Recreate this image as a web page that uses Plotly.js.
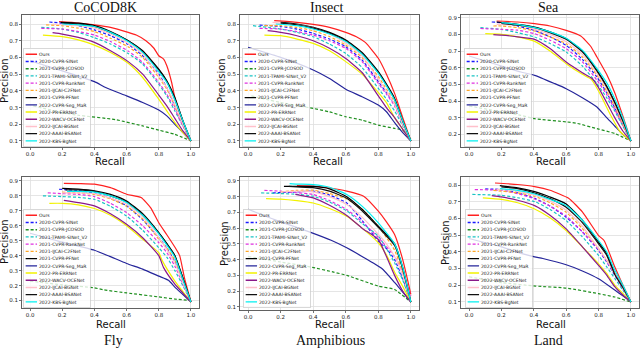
<!DOCTYPE html>
<html>
<head>
<meta charset="utf-8">
<script src="https://cdn.plot.ly/plotly-3.0.1.min.js"></script>
<style>
  html, body { margin: 0; padding: 0; background: #fff; }
  #chart { width: 640px; height: 348px; }
</style>
</head>
<body>
<div id="chart"></div>
<script>
// method names, in legend order
const methods = [
    'Ours', '2020-CVPR-SINet', '2021-CVPR-JCOSOD', '2021-TPAMI-SINet_V2',
    '2021-CVPR-RankNet', '2021-IJCAI-C2FNet', '2021-CVPR-PFNet', '2022-CVPR-Seg_MaR',
    '2022-PR-ERRNet', '2022-WACV-OCENet', '2022-IJCAI-BGNet', '2022-AAAI-BSANet', '2022-KBS-BgNet'
];
const datasetNames = ['CoCOD8K', 'Insect', 'Sea', 'Fly', 'Amphibious', 'Land'];

// PR curves, one list of [recall, precision] per method (same order as methods)
const cocod8k = [
    [[0.18,0.814],[0.3,0.806],[0.4,0.795],[0.5,0.78],[0.61,0.75],[0.66,0.734],[0.72,0.70],[0.77,0.655],[0.80,0.61],[0.83,0.59],[0.85,0.55],[0.88,0.45],[0.90,0.36],[0.95,0.21],[1.0,0.1]],
    [[0.12,0.812],[0.2,0.805],[0.3,0.79],[0.4,0.765],[0.5,0.73],[0.61,0.678],[0.7,0.61],[0.8,0.5],[0.85,0.42],[0.9,0.31],[0.95,0.2],[1.0,0.1]],
    [[0.02,0.31],[0.2,0.27],[0.3,0.254],[0.53,0.228],[0.7,0.19],[0.8,0.165],[0.9,0.14],[1.0,0.1]],
    [[0.07,0.78],[0.2,0.77],[0.3,0.75],[0.4,0.718],[0.5,0.68],[0.61,0.624],[0.7,0.56],[0.8,0.44],[0.85,0.37],[0.9,0.28],[0.95,0.19],[1.0,0.1]],
    [[0.07,0.774],[0.2,0.77],[0.3,0.755],[0.4,0.734],[0.5,0.695],[0.61,0.638],[0.7,0.57],[0.8,0.45],[0.85,0.38],[0.9,0.29],[0.95,0.19],[1.0,0.1]],
    [[0.10,0.795],[0.2,0.79],[0.3,0.775],[0.4,0.755],[0.5,0.715],[0.61,0.664],[0.7,0.6],[0.8,0.48],[0.85,0.41],[0.9,0.31],[0.95,0.2],[1.0,0.1]],
    [[0.19,0.81],[0.3,0.805],[0.4,0.79],[0.5,0.755],[0.61,0.70],[0.7,0.64],[0.8,0.53],[0.85,0.46],[0.9,0.36],[0.95,0.22],[1.0,0.1]],
    [[0.0,0.58],[0.2,0.52],[0.4,0.455],[0.47,0.42],[0.6,0.37],[0.7,0.33],[0.8,0.285],[0.85,0.25],[0.9,0.2],[0.95,0.15],[1.0,0.1]],
    [[0.08,0.734],[0.2,0.725],[0.3,0.705],[0.4,0.674],[0.5,0.63],[0.61,0.565],[0.7,0.48],[0.8,0.35],[0.85,0.28],[0.9,0.21],[0.95,0.15],[1.0,0.1]],
    [[0.14,0.748],[0.2,0.74],[0.3,0.72],[0.4,0.69],[0.5,0.64],[0.61,0.575],[0.7,0.5],[0.8,0.375],[0.85,0.31],[0.9,0.235],[0.95,0.16],[1.0,0.1]],
    [[0.14,0.80],[0.2,0.795],[0.3,0.79],[0.4,0.775],[0.5,0.74],[0.61,0.684],[0.7,0.62],[0.8,0.49],[0.85,0.42],[0.9,0.32],[0.95,0.2],[1.0,0.1]],
    [[0.2,0.805],[0.3,0.80],[0.4,0.785],[0.5,0.75],[0.61,0.70],[0.7,0.635],[0.8,0.525],[0.85,0.455],[0.9,0.35],[0.95,0.22],[1.0,0.1]],
    [[0.2,0.80],[0.3,0.795],[0.4,0.785],[0.5,0.75],[0.61,0.695],[0.7,0.63],[0.8,0.515],[0.85,0.45],[0.9,0.345],[0.95,0.22],[1.0,0.1]],
];

const insect = [
    [[0.16,0.82],[0.3,0.81],[0.4,0.798],[0.5,0.78],[0.6,0.75],[0.665,0.724],[0.72,0.69],[0.8,0.595],[0.85,0.50],[0.9,0.385],[0.95,0.24],[1.0,0.1]],
    [[0.07,0.794],[0.2,0.785],[0.3,0.77],[0.4,0.744],[0.5,0.71],[0.6,0.664],[0.7,0.585],[0.8,0.455],[0.85,0.39],[0.9,0.32],[0.95,0.2],[1.0,0.1]],
    [[0.02,0.37],[0.2,0.33],[0.4,0.295],[0.5,0.274],[0.6,0.245],[0.7,0.225],[0.8,0.195],[0.9,0.175],[0.95,0.165],[1.0,0.11]],
    [[0.03,0.79],[0.2,0.77],[0.3,0.75],[0.4,0.724],[0.5,0.68],[0.6,0.624],[0.7,0.54],[0.8,0.415],[0.85,0.35],[0.9,0.28],[0.95,0.19],[1.0,0.1]],
    [[0.07,0.774],[0.2,0.77],[0.3,0.755],[0.4,0.734],[0.5,0.70],[0.6,0.654],[0.7,0.575],[0.8,0.445],[0.85,0.38],[0.9,0.31],[0.95,0.2],[1.0,0.1]],
    [[0.1,0.79],[0.2,0.79],[0.3,0.78],[0.4,0.76],[0.5,0.725],[0.6,0.674],[0.7,0.6],[0.8,0.485],[0.85,0.41],[0.9,0.33],[0.95,0.21],[1.0,0.1]],
    [[0.2,0.81],[0.3,0.80],[0.4,0.78],[0.5,0.75],[0.6,0.704],[0.7,0.63],[0.8,0.515],[0.85,0.44],[0.9,0.355],[0.95,0.22],[1.0,0.1]],
    [[0.0,0.66],[0.2,0.6],[0.4,0.525],[0.5,0.474],[0.6,0.41],[0.7,0.365],[0.8,0.315],[0.85,0.275],[0.9,0.21],[0.95,0.15],[1.0,0.1]],
    [[0.10,0.734],[0.2,0.73],[0.3,0.71],[0.4,0.684],[0.5,0.64],[0.6,0.575],[0.7,0.50],[0.8,0.39],[0.85,0.33],[0.9,0.24],[0.95,0.17],[1.0,0.1]],
    [[0.12,0.76],[0.2,0.75],[0.3,0.73],[0.4,0.70],[0.5,0.655],[0.6,0.594],[0.7,0.51],[0.8,0.37],[0.85,0.30],[0.9,0.24],[0.95,0.17],[1.0,0.1]],
    [[0.15,0.81],[0.3,0.795],[0.4,0.775],[0.5,0.74],[0.6,0.685],[0.7,0.61],[0.8,0.47],[0.85,0.40],[0.9,0.32],[0.95,0.2],[1.0,0.1]],
    [[0.2,0.805],[0.3,0.795],[0.4,0.775],[0.5,0.745],[0.6,0.70],[0.7,0.625],[0.8,0.51],[0.85,0.435],[0.9,0.35],[0.95,0.22],[1.0,0.1]],
    [[0.17,0.80],[0.3,0.79],[0.4,0.77],[0.5,0.74],[0.6,0.695],[0.7,0.62],[0.8,0.505],[0.85,0.43],[0.9,0.345],[0.95,0.22],[1.0,0.1]],
];

const sea = [
    [[0.17,0.88],[0.3,0.874],[0.405,0.864],[0.5,0.85],[0.6,0.824],[0.69,0.79],[0.75,0.73],[0.79,0.664],[0.85,0.56],[0.9,0.45],[0.95,0.31],[1.0,0.16]],
    [[0.14,0.874],[0.2,0.87],[0.3,0.85],[0.405,0.824],[0.5,0.785],[0.6,0.734],[0.7,0.65],[0.79,0.544],[0.85,0.45],[0.9,0.36],[0.95,0.26],[1.0,0.16]],
    [[0.0,0.37],[0.2,0.335],[0.32,0.314],[0.405,0.294],[0.6,0.275],[0.67,0.265],[0.79,0.234],[0.9,0.205],[1.0,0.16]],
    [[0.07,0.84],[0.2,0.83],[0.3,0.81],[0.405,0.784],[0.5,0.745],[0.6,0.694],[0.7,0.61],[0.79,0.504],[0.85,0.42],[0.9,0.34],[0.95,0.25],[1.0,0.16]],
    [[0.07,0.835],[0.2,0.83],[0.3,0.825],[0.405,0.804],[0.5,0.765],[0.6,0.714],[0.7,0.635],[0.79,0.525],[0.85,0.44],[0.9,0.35],[0.95,0.255],[1.0,0.16]],
    [[0.15,0.85],[0.2,0.85],[0.3,0.84],[0.405,0.82],[0.5,0.785],[0.6,0.744],[0.7,0.665],[0.79,0.555],[0.85,0.46],[0.9,0.37],[0.95,0.26],[1.0,0.16]],
    [[0.17,0.874],[0.3,0.86],[0.405,0.844],[0.5,0.815],[0.6,0.774],[0.7,0.70],[0.79,0.584],[0.85,0.49],[0.9,0.394],[0.95,0.28],[1.0,0.16]],
    [[0.0,0.67],[0.2,0.61],[0.32,0.574],[0.405,0.554],[0.53,0.504],[0.6,0.474],[0.7,0.42],[0.79,0.364],[0.85,0.30],[0.9,0.25],[0.95,0.2],[1.0,0.16]],
    [[0.1,0.804],[0.2,0.80],[0.3,0.785],[0.405,0.758],[0.5,0.70],[0.6,0.624],[0.7,0.56],[0.755,0.53],[0.8,0.46],[0.875,0.314],[0.93,0.22],[1.0,0.16]],
    [[0.15,0.798],[0.2,0.795],[0.3,0.785],[0.405,0.77],[0.5,0.715],[0.6,0.634],[0.7,0.57],[0.76,0.535],[0.8,0.48],[0.9,0.3],[0.95,0.22],[1.0,0.16]],
    [[0.17,0.86],[0.3,0.855],[0.405,0.83],[0.5,0.8],[0.6,0.755],[0.7,0.68],[0.79,0.565],[0.85,0.475],[0.9,0.38],[0.95,0.27],[1.0,0.16]],
    [[0.2,0.865],[0.3,0.855],[0.405,0.84],[0.5,0.81],[0.6,0.77],[0.7,0.695],[0.79,0.58],[0.85,0.485],[0.9,0.39],[0.95,0.28],[1.0,0.16]],
    [[0.2,0.87],[0.3,0.86],[0.405,0.84],[0.5,0.815],[0.6,0.776],[0.7,0.705],[0.79,0.594],[0.85,0.51],[0.9,0.414],[0.95,0.3],[1.0,0.16]],
];

const fly = [
    [[0.21,0.884],[0.3,0.882],[0.4,0.878],[0.5,0.855],[0.6,0.811],[0.69,0.789],[0.75,0.72],[0.8,0.62],[0.85,0.54],[0.91,0.44],[0.93,0.40],[0.96,0.25],[1.0,0.09]],
    [[0.18,0.844],[0.3,0.835],[0.4,0.818],[0.5,0.785],[0.6,0.733],[0.7,0.64],[0.8,0.52],[0.85,0.45],[0.9,0.36],[0.95,0.23],[1.0,0.09]],
    [[0.0,0.23],[0.2,0.205],[0.4,0.185],[0.46,0.171],[0.6,0.151],[0.8,0.124],[0.9,0.11],[1.0,0.1]],
    [[0.08,0.80],[0.2,0.795],[0.3,0.79],[0.4,0.777],[0.5,0.73],[0.6,0.665],[0.7,0.57],[0.8,0.453],[0.85,0.39],[0.9,0.30],[0.95,0.2],[1.0,0.09]],
    [[0.11,0.82],[0.2,0.815],[0.3,0.81],[0.4,0.795],[0.5,0.75],[0.6,0.688],[0.7,0.60],[0.8,0.487],[0.85,0.42],[0.9,0.33],[0.95,0.21],[1.0,0.09]],
    [[0.2,0.825],[0.3,0.82],[0.4,0.81],[0.5,0.78],[0.6,0.73],[0.7,0.645],[0.8,0.51],[0.85,0.45],[0.9,0.37],[0.95,0.23],[1.0,0.09]],
    [[0.2,0.85],[0.3,0.845],[0.4,0.834],[0.5,0.81],[0.6,0.766],[0.7,0.68],[0.8,0.554],[0.85,0.48],[0.9,0.4],[0.95,0.25],[1.0,0.09]],
    [[0.0,0.55],[0.2,0.49],[0.4,0.436],[0.495,0.395],[0.6,0.348],[0.7,0.31],[0.8,0.263],[0.86,0.235],[0.9,0.19],[0.95,0.14],[1.0,0.09]],
    [[0.12,0.75],[0.2,0.75],[0.3,0.74],[0.4,0.715],[0.5,0.67],[0.6,0.6],[0.7,0.51],[0.8,0.42],[0.82,0.37],[0.9,0.23],[0.95,0.16],[1.0,0.09]],
    [[0.21,0.77],[0.3,0.755],[0.4,0.733],[0.5,0.68],[0.6,0.61],[0.7,0.52],[0.8,0.40],[0.83,0.32],[0.9,0.21],[0.95,0.15],[1.0,0.09]],
    [[0.2,0.82],[0.3,0.82],[0.4,0.815],[0.5,0.785],[0.6,0.745],[0.7,0.66],[0.8,0.52],[0.85,0.44],[0.9,0.35],[0.95,0.22],[1.0,0.09]],
    [[0.22,0.84],[0.3,0.84],[0.4,0.83],[0.5,0.8],[0.6,0.76],[0.7,0.675],[0.8,0.55],[0.85,0.48],[0.9,0.4],[0.95,0.25],[1.0,0.09]],
    [[0.23,0.83],[0.3,0.83],[0.4,0.825],[0.5,0.8],[0.6,0.755],[0.7,0.67],[0.8,0.545],[0.85,0.47],[0.9,0.39],[0.95,0.24],[1.0,0.09]],
];

const amphibious = [
    [[0.3,0.87],[0.4,0.867],[0.5,0.855],[0.606,0.835],[0.71,0.803],[0.8,0.708],[0.85,0.64],[0.9,0.56],[0.95,0.40],[1.0,0.18]],
    [[0.15,0.824],[0.3,0.83],[0.4,0.835],[0.5,0.81],[0.606,0.76],[0.7,0.65],[0.8,0.517],[0.85,0.47],[0.9,0.40],[0.95,0.28],[1.0,0.13]],
    [[0.0,0.42],[0.2,0.385],[0.38,0.354],[0.52,0.322],[0.606,0.30],[0.8,0.232],[0.9,0.21],[1.0,0.13]],
    [[0.08,0.824],[0.2,0.82],[0.3,0.815],[0.4,0.803],[0.5,0.765],[0.606,0.71],[0.7,0.63],[0.8,0.55],[0.85,0.47],[0.9,0.38],[0.95,0.27],[1.0,0.13]],
    [[0.1,0.84],[0.2,0.835],[0.3,0.825],[0.4,0.814],[0.5,0.775],[0.606,0.718],[0.7,0.64],[0.8,0.54],[0.9,0.42],[0.95,0.316],[1.0,0.17]],
    [[0.2,0.83],[0.3,0.84],[0.4,0.841],[0.5,0.82],[0.606,0.785],[0.7,0.72],[0.8,0.61],[0.85,0.54],[0.9,0.46],[0.95,0.32],[1.0,0.13]],
    [[0.22,0.865],[0.3,0.865],[0.4,0.865],[0.5,0.85],[0.606,0.80],[0.7,0.72],[0.8,0.613],[0.85,0.56],[0.9,0.5],[0.95,0.35],[1.0,0.13]],
    [[0.0,0.72],[0.2,0.64],[0.38,0.575],[0.51,0.523],[0.606,0.475],[0.7,0.42],[0.82,0.345],[0.9,0.255],[1.0,0.13]],
    [[0.11,0.788],[0.2,0.785],[0.3,0.775],[0.4,0.76],[0.5,0.725],[0.606,0.675],[0.7,0.6],[0.8,0.507],[0.85,0.43],[0.9,0.32],[0.95,0.23],[1.0,0.13]],
    [[0.29,0.815],[0.4,0.792],[0.5,0.745],[0.606,0.68],[0.7,0.6],[0.8,0.528],[0.85,0.42],[0.9,0.3],[0.95,0.2],[1.0,0.13]],
    [[0.2,0.83],[0.3,0.835],[0.4,0.83],[0.5,0.8],[0.606,0.75],[0.7,0.67],[0.8,0.56],[0.85,0.5],[0.9,0.42],[0.95,0.3],[1.0,0.13]],
    [[0.25,0.865],[0.3,0.862],[0.4,0.857],[0.5,0.835],[0.606,0.79],[0.7,0.71],[0.8,0.605],[0.85,0.55],[0.9,0.49],[0.95,0.34],[1.0,0.13]],
    [[0.255,0.883],[0.3,0.88],[0.4,0.877],[0.5,0.86],[0.606,0.814],[0.7,0.74],[0.8,0.634],[0.85,0.57],[0.9,0.5],[0.95,0.35],[1.0,0.13]],
];

const land = [
    [[0.16,0.814],[0.3,0.805],[0.405,0.792],[0.5,0.77],[0.615,0.722],[0.7,0.64],[0.8,0.498],[0.834,0.468],[0.9,0.31],[0.95,0.2],[1.0,0.098]],
    [[0.1,0.778],[0.2,0.775],[0.3,0.755],[0.405,0.722],[0.5,0.675],[0.6,0.608],[0.7,0.52],[0.8,0.408],[0.85,0.34],[0.9,0.26],[0.95,0.18],[1.0,0.098]],
    [[0.0,0.25],[0.2,0.215],[0.41,0.194],[0.6,0.182],[0.8,0.148],[0.9,0.128],[1.0,0.098]],
    [[0.02,0.745],[0.2,0.74],[0.3,0.725],[0.405,0.702],[0.5,0.655],[0.6,0.588],[0.7,0.49],[0.8,0.378],[0.85,0.31],[0.9,0.24],[0.95,0.17],[1.0,0.098]],
    [[0.035,0.774],[0.2,0.77],[0.3,0.75],[0.405,0.718],[0.5,0.675],[0.6,0.615],[0.7,0.52],[0.8,0.414],[0.85,0.345],[0.9,0.265],[0.95,0.18],[1.0,0.098]],
    [[0.15,0.77],[0.3,0.755],[0.405,0.734],[0.5,0.695],[0.6,0.638],[0.7,0.54],[0.8,0.42],[0.85,0.35],[0.9,0.27],[0.95,0.185],[1.0,0.098]],
    [[0.19,0.798],[0.3,0.785],[0.405,0.762],[0.5,0.73],[0.6,0.688],[0.7,0.59],[0.8,0.458],[0.85,0.39],[0.9,0.27],[0.95,0.19],[1.0,0.098]],
    [[0.0,0.48],[0.2,0.43],[0.31,0.394],[0.405,0.37],[0.456,0.36],[0.6,0.322],[0.7,0.285],[0.8,0.238],[0.9,0.17],[0.95,0.135],[1.0,0.098]],
    [[0.085,0.724],[0.2,0.715],[0.3,0.695],[0.405,0.658],[0.5,0.605],[0.6,0.528],[0.7,0.43],[0.8,0.328],[0.85,0.27],[0.9,0.2],[0.95,0.15],[1.0,0.098]],
    [[0.14,0.738],[0.2,0.73],[0.3,0.71],[0.405,0.678],[0.5,0.62],[0.6,0.538],[0.7,0.43],[0.8,0.318],[0.85,0.26],[0.9,0.19],[0.95,0.14],[1.0,0.098]],
    [[0.17,0.775],[0.3,0.765],[0.405,0.74],[0.5,0.705],[0.6,0.65],[0.7,0.555],[0.8,0.418],[0.85,0.35],[0.9,0.27],[0.95,0.185],[1.0,0.098]],
    [[0.2,0.79],[0.3,0.78],[0.405,0.754],[0.5,0.72],[0.6,0.668],[0.7,0.575],[0.8,0.448],[0.85,0.38],[0.9,0.265],[0.95,0.185],[1.0,0.098]],
    [[0.19,0.78],[0.3,0.77],[0.405,0.748],[0.5,0.715],[0.6,0.678],[0.7,0.59],[0.8,0.468],[0.85,0.4],[0.9,0.29],[0.95,0.2],[1.0,0.098]],
];

// line styles per method
const lineColors = ['#ff2020', '#1a1aff', '#1f8f1f', '#19c4c4', '#e030e0', '#ffa726', '#000000',
                    '#25259a', '#f2f200', '#8a1a8a', '#ffc0cb', '#111111', '#00f0f0'];
const lineDashes = ['solid', 'dash', 'dash', 'dash', 'dash', 'dash', 'solid',
                    'solid', 'solid', 'solid', 'solid', 'solid', 'solid'];

// page layout (pixels of the 640x348 page)
const W = 640, H = 348;
const panels = [
    { data: cocod8k,    px: [22, 199],  py: [15, 147],  yr: [0.064, 0.854], leg: [23, 48],   title: [105, 8],   recall: [110, 162], prec: [5, 81] },
    { data: insect,     px: [240, 419], py: [15, 147],  yr: [0.064, 0.854], leg: [242, 48],  title: [327, 8],   recall: [328, 162], prec: [222, 81] },
    { data: sea,        px: [461, 639], py: [15, 147],  yr: [0.124, 0.916], leg: [464, 48],  title: [548, 8],   recall: [551, 162], prec: [444, 81] },
    { data: fly,        px: [22, 199],  py: [177, 308], yr: [0.050, 0.926], leg: [23, 209],  title: [113, 340], recall: [111, 324], prec: [4, 242] },
    { data: amphibious, px: [240, 419], py: [177, 310], yr: [0.080, 0.925], leg: [243, 209], title: [330, 340], recall: [330, 324], prec: [224, 244] },
    { data: land,       px: [461, 639], py: [177, 308], yr: [0.062, 0.850], leg: [465, 209], title: [548, 340], recall: [551, 324], prec: [445, 243] },
];
const legendScale = 0.38;

const axisBase = {
    showline: true, mirror: true, linecolor: '#3a3a3a', linewidth: 0.8,
    showgrid: true, gridcolor: '#dedede', gridwidth: 0.8,
    zeroline: false,
    ticks: 'outside', ticklen: 2, tickwidth: 0.7, tickcolor: '#3a3a3a',
    tickfont: { family: 'DejaVu Sans', size: 5.5, color: '#222' },
    tickformat: '.1f', tick0: 0,
    fixedrange: true,
};

function paperText(text, pos, font, extra) {
    return {
        text, showarrow: false, xref: 'paper', yref: 'paper',
        x: pos[0] / W, y: 1 - pos[1] / H, xanchor: 'center', yanchor: 'middle',
        font, ...extra,
    };
}

const traces = [];
const layout = {
    width: W, height: H,
    margin: { l: 0, r: 0, t: 0, b: 0, autoexpand: false },
    paper_bgcolor: '#fff', plot_bgcolor: '#fff',
    font: { family: 'DejaVu Sans', color: '#111' },
    showlegend: true,
    annotations: [],
};

const axisTitleFont = { family: 'DejaVu Sans', size: 10, color: '#111' };
const panelTitleFont = { family: 'Liberation Serif, Times New Roman, serif', size: 14, color: '#111' };

panels.forEach((p, i) => {
    const n = i === 0 ? '' : String(i + 1);
    p.data.forEach((pts, k) => {
        traces.push({
            x: pts.map(d => d[0]),
            y: pts.map(d => d[1]),
            xaxis: 'x' + n, yaxis: 'y' + n, legend: 'legend' + n,
            type: 'scatter', mode: 'lines', name: methods[k],
            line: {
                color: lineColors[k], width: 1.2, shape: 'spline', smoothing: 0.5,
                dash: lineDashes[k] === 'dash' ? '3px,2px' : 'solid',
            },
        });
    });

    layout['xaxis' + n] = {
        ...axisBase,
        domain: [p.px[0] / W, p.px[1] / W],
        range: [-0.05, 1.05], dtick: 0.2,
        anchor: 'y' + n,
    };
    layout['yaxis' + n] = {
        ...axisBase,
        domain: [1 - p.py[1] / H, 1 - p.py[0] / H],
        range: p.yr, dtick: 0.1,
        anchor: 'x' + n,
    };
    layout['legend' + n] = {
        x: p.leg[0] / W, y: 1 - p.leg[1] / H, xanchor: 'left', yanchor: 'top',
        bgcolor: 'rgba(255,255,255,0.8)', bordercolor: '#cccccc', borderwidth: 2,
        font: { family: 'DejaVu Sans', size: 12, color: '#222' },
    };
    layout.annotations.push(
        paperText(datasetNames[i], p.title, panelTitleFont),
        paperText('Recall', p.recall, axisTitleFont),
        paperText('Precision', p.prec, axisTitleFont, { textangle: -90 }),
    );
});

Plotly.newPlot('chart', traces, layout, { staticPlot: true, displayModeBar: false })
    .then(gd => {
        // legends are drawn at a readable size, then shrunk to fit inside the small panels
        panels.forEach((p, i) => {
            const id = 'legend' + (i === 0 ? '' : i + 1);
            const g = gd.querySelector('.infolayer > g.' + id);
            if (!g) return;
            g.setAttribute('transform', `translate(${p.leg[0]},${p.leg[1]}) scale(${legendScale})`);
            g.querySelectorAll('g.traces').forEach((item, k) => {
                const path = item.querySelector('.legendlines path');
                if (!path) return;
                path.style.strokeWidth = '3.5px';
                path.style.strokeDasharray = lineDashes[k] === 'dash' ? '8px,5px' : 'none';
            });
        });
    });
</script>
</body>
</html>
